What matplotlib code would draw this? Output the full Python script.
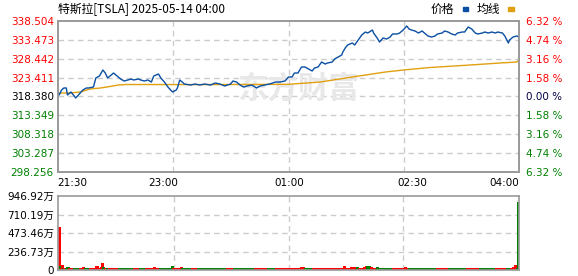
import numpy as np
import matplotlib.pyplot as plt
from matplotlib.patches import Rectangle

plt.rcParams['font.family'] = ['DejaVu Sans', 'Noto Sans CJK SC']

# 文本和刻度
titulo = '特斯拉[TSLA] 2025-05-14 04:00'
y_ticks = [338.504, 333.473, 328.442, 323.411, 318.380, 313.349, 308.318, 303.287, 298.256]
pct_labels = ['6.32 %', '4.74 %', '3.16 %', '1.58 %', '0.00 %', '1.58 %', '3.16 %', '4.74 %', '6.32 %']
time_labels = ['21:30', '23:00', '01:00', '02:30', '04:00']
time_label_pos = [12.3, 88.8, 195.4, 299.5, 377.4]
vol_ticks = [0, 236.73, 473.46, 710.19, 946.92]
vol_labels = ['0', '236.73万', '473.46万', '710.19万', '946.92万']

# 价格 (minuto desde 21:30, preço)
price_min = [0, 1, 3, 5, 7, 8, 11, 13, 15, 18, 21, 24, 26, 30, 32, 35, 38, 40, 42, 45,
             47, 51, 53, 56, 59, 62, 64, 68, 70, 73, 76, 79, 81, 85, 87, 90, 93, 96, 97, 100,
             101, 103, 105, 107, 112, 116, 120, 124, 129, 133, 137, 141, 146, 148, 151, 154, 157, 160, 164, 168,
             171, 175, 179, 184, 188, 192, 195, 198, 200, 203, 206, 209, 212, 215, 217, 220, 223, 226, 228, 232,
             234, 237, 240, 241, 243, 245, 249, 251, 254, 257, 260, 262, 266, 267, 270, 272, 275, 278, 281, 283,
             287, 289, 292, 295, 297, 299, 302, 305, 308, 310, 313, 316, 319, 321, 325, 327, 330, 333, 336, 338,
             342, 344, 347, 350, 353, 355, 359, 361, 364, 367, 370, 372, 376, 378, 381, 382, 385, 388, 390]
price_val = [319.31, 318.78, 320.11, 320.65, 320.65, 318.78, 319.58, 318.78, 317.98, 319.05,
             320.11, 320.65, 320.65, 320.91, 323.31, 323.84, 325.44, 324.64, 323.31, 324.11,
             324.64, 323.58, 323.04, 322.51, 322.78, 323.04, 322.78, 323.04, 322.78, 322.51,
             322.78, 322.24, 323.84, 324.38, 323.31, 322.24, 320.91, 319.85, 319.58, 320.11,
             320.65, 322.78, 322.24, 321.71, 321.44, 321.71, 321.44, 321.71, 321.44, 321.98,
             321.71, 321.18, 321.71, 322.51, 322.24, 321.44, 320.91, 321.18, 321.44, 320.65,
             321.18, 321.44, 321.71, 322.24, 322.24, 322.51, 323.58, 323.58, 324.64, 324.64,
             326.24, 326.24, 325.71, 325.18, 325.98, 326.24, 327.57, 327.04, 327.31, 327.57,
             328.37, 328.91, 329.44, 330.24, 331.31, 332.11, 332.64, 332.11, 333.44, 334.77,
             335.57, 335.30, 336.10, 335.30, 333.97, 332.90, 333.97, 333.70, 334.24, 335.04,
             335.04, 335.30, 336.10, 337.17, 336.37, 336.10, 335.84, 335.30, 335.84, 335.30,
             334.50, 334.24, 334.50, 335.04, 335.30, 335.84, 335.57, 335.04, 334.77, 335.30,
             335.57, 335.57, 336.90, 336.37, 335.30, 335.04, 335.30, 335.57, 335.30, 335.57,
             335.30, 335.57, 335.30, 334.50, 332.64, 333.44, 334.24, 334.50, 334.24]

# 均线
avg_min = [0, 10, 19, 27, 36, 44, 51, 58, 120, 195, 222, 249, 277, 292, 315, 349, 374, 388, 390]
avg_val = [319.31, 319.31, 319.58, 320.38, 320.65, 321.05, 321.44, 321.58, 321.55, 321.63,
           322.24, 323.58, 324.91, 325.44, 326.11, 326.78, 327.31, 327.57, 328.11]

# 成交量 (万)
vol_base = 25
vol_spike_min = [0, 1, 2, 3, 4, 7, 8, 12, 14, 21, 22, 32, 33, 36, 37, 38, 41, 42, 81, 96,
                 104, 205, 206, 207, 221, 238, 242, 248, 250, 251, 253, 257, 259, 261, 262, 263, 265, 270, 294, 385,
                 387, 390]
vol_spike_val = [554, 50, 30, 58, 30, 35, 35, 30, 30, 40, 30, 47, 56, 35, 93, 42, 30, 30, 40, 50,
                 40, 30, 35, 35, 30, 30, 45, 35, 40, 40, 40, 30, 40, 45, 45, 45, 35, 35, 35, 35,
                 64, 870]
cor_inicio = [0, 1, 2, 4, 5, 6, 9, 13, 18, 22, 27, 38, 39, 41, 43, 51, 64, 69, 74, 86,
              97, 105, 113, 118, 143, 149, 167, 178, 184, 209, 216, 253, 255, 262, 265, 270, 284, 297, 321, 331,
              346, 357, 371, 380, 384, 389]
cor_tipo = ['r', 'g', 'r', 'g', 'r', 'g', 'r', 'g', 'r', 'g', 'r', 'g', 'r', 'g', 'r', 'g', 'r', 'g', 'r', 'g',
            'r', 'g', 'r', 'g', 'r', 'g', 'r', 'g', 'r', 'g', 'r', 'g', 'r', 'g', 'r', 'g', 'r', 'g', 'r', 'g',
            'r', 'g', 'r', 'g', 'r', 'g']

VERMELHO = '#ff0000'
VERDE = '#008000'
GRADE = '#cccccc'
MOLDURA = '#999999'

n = 391
minutos = np.arange(n)
vol = np.full(n, vol_base, dtype=float)
vol[vol_spike_min] = vol_spike_val
cores = []
for m in minutos:
    k = np.searchsorted(cor_inicio, m, side='right') - 1
    cores.append(VERMELHO if cor_tipo[k] == 'r' else VERDE)

fig = plt.figure(figsize=(5.78, 2.76), dpi=100)
ax = fig.add_axes([58 / 578, 1 - 172 / 276, 461 / 578, 151 / 276])
axv = fig.add_axes([58 / 578, 1 - 270 / 276, 461 / 578, 74 / 276])

# 价格图
for y in y_ticks[1:-1]:
    ax.axhline(y, color=GRADE, lw=1, dashes=(4, 3), zorder=0)
for x in [97.5, 195, 292.5]:
    ax.axvline(x, color=GRADE, lw=1, dashes=(4, 3), zorder=0)

ax.text(0.52, 0.55, '东方财富', transform=ax.transAxes, fontsize=22, fontweight='bold',
        color='#e8e8e8', family=['Noto Sans CJK SC'], ha='center', va='center', zorder=0)

ax.plot(avg_min, avg_val, color='#e0a010', lw=1.0, zorder=2)
ax.plot(price_min, price_val, color='#0a4fa3', lw=1.0, zorder=3)
ax.set_xlim(0, 390)
ax.set_ylim(y_ticks[-1], y_ticks[0])
ax.set_yticks(y_ticks)
ax.set_yticklabels([f'{v:.3f}' for v in y_ticks])
ax.set_xticks(time_label_pos)
ax.set_xticklabels(time_labels)
ax.tick_params(length=0, labelsize=7.5, pad=3)
ax.tick_params(axis='x', pad=4)
for lab, v in zip(ax.get_yticklabels(), y_ticks):
    lab.set_color(VERMELHO if v > 318.38 else (VERDE if v < 318.38 else '#000000'))

ax2 = ax.twinx()
ax2.set_ylim(y_ticks[-1], y_ticks[0])
ax2.set_yticks(y_ticks)
ax2.set_yticklabels(pct_labels)
ax2.tick_params(length=0, labelsize=7.5, pad=5)
for i, lab in enumerate(ax2.get_yticklabels()):
    lab.set_color(VERMELHO if i < 4 else ('#000040' if i == 4 else VERDE))

for a in (ax, ax2, axv):
    for s in a.spines.values():
        s.set_color(MOLDURA)
        s.set_linewidth(1.2)

# 成交量图
for y in vol_ticks[1:-1]:
    axv.axhline(y, color=GRADE, lw=1, dashes=(4, 3), zorder=0)
for x in [97.5, 195, 292.5]:
    axv.axvline(x, color=GRADE, lw=1, dashes=(4, 3), zorder=0)
axv.vlines(minutos, 0, vol, colors=cores, lw=1.0, antialiased=False, zorder=2)
axv.set_xlim(-0.5, 390.5)
axv.set_ylim(0, vol_ticks[-1])
axv.set_yticks(vol_ticks)
axv.set_yticklabels(vol_labels)
axv.set_xticks([])
axv.tick_params(length=0, labelsize=7.5, pad=3)

# 标题和图例
fig.text(58 / 578, 1 - 9 / 276, titulo, fontsize=8.5, va='center', ha='left',
         family=['Noto Sans CJK SC'])
fig.text(431 / 578, 1 - 9 / 276, '价格', fontsize=8.5, va='center', ha='left',
         family=['Noto Sans CJK SC'])
fig.add_artist(Rectangle((463 / 578, 1 - 10.5 / 276), 5 / 578, 3 / 276,
                         transform=fig.transFigure, color='#0a4fa3'))
fig.text(477 / 578, 1 - 9 / 276, '均线', fontsize=8.5, va='center', ha='left',
         family=['Noto Sans CJK SC'])
fig.add_artist(Rectangle((508 / 578, 1 - 10.5 / 276), 6 / 578, 3 / 276,
                         transform=fig.transFigure, color='#e0a010'))

fig.savefig('out.png', dpi=100)
